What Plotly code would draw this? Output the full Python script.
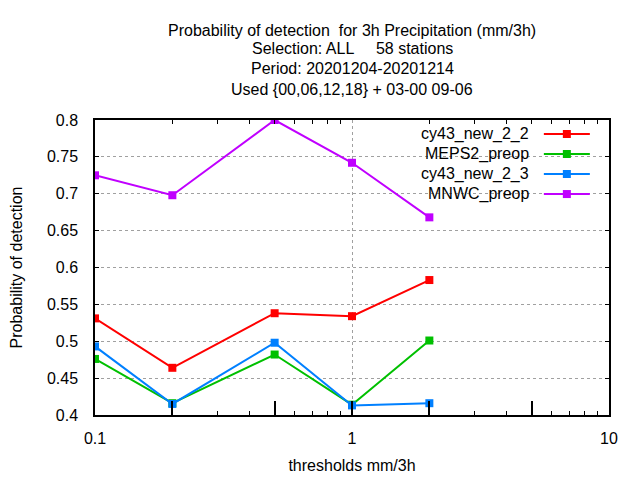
import plotly.graph_objects as go

thresholds = [0.1, 0.2, 0.5, 1, 2]
series_names = ["cy43_new_2_2", "MEPS2_preop", "cy43_new_2_3", "MNWC_preop"]
cy43_new_2_2 = [0.531, 0.464, 0.538, 0.534, 0.583]
meps2_preop = [0.476, 0.416, 0.482, 0.414, 0.501]
cy43_new_2_3 = [0.493, 0.415, 0.498, 0.413, 0.416]
mnwc_preop = [0.725, 0.698, 0.800, 0.742, 0.668]
colors = ["#ff0000", "#00c000", "#0080ff", "#c000ff"]

title_lines = [
    "Probability of detection  for 3h Precipitation (mm/3h)",
    "Selection: ALL     58 stations",
    "Period: 20201204-20201214",
    "Used {00,06,12,18} + 03-00 09-06",
]
x_labelled = [0.1, 1, 10]
x_labelled_text = ["0.1", "1", "10"]
x_grid = [1]
x_threshold_ticks = [0.2, 0.5, 2, 5]
x_minor = [0.3, 0.4, 0.6, 0.7, 0.8, 0.9, 3, 4, 6, 7, 8, 9]
x_top = [0.2, 0.3, 0.4, 0.5, 0.6, 0.7, 0.8, 0.9, 2, 3, 4, 5, 6, 7, 8, 9]

FONT = "Liberation Sans"
FS = 16
GRID = "#a0a0a0"

fig = go.Figure()
all_series = [cy43_new_2_2, meps2_preop, cy43_new_2_3, mnwc_preop]
for name, vals, col in zip(series_names, all_series, colors):
    fig.add_trace(go.Scatter(
        x=thresholds, y=vals, name=name, mode="lines+markers",
        line=dict(color=col, width=2),
        marker=dict(symbol="square", size=8, color=col),
        showlegend=False,
    ))

# invisible traces to anchor the extra tick axes
for ax in ["x2", "x3", "x4"]:
    fig.add_trace(go.Scatter(x=thresholds, y=mnwc_preop, xaxis=ax, mode="lines",
                             line=dict(width=0), opacity=0, showlegend=False,
                             hoverinfo="skip"))

# custom legend (text right, sample on the right)
shapes = []
annotations = []
leg_text_x = 0.849
leg_line_x = 0.918
leg_rows = [0.9525, 0.8847, 0.8169, 0.749]
shapes.append(dict(type="rect", xref="paper", yref="paper", x0=0.62, x1=0.973,
                   y0=0.719, y1=0.985, fillcolor="white", line=dict(width=0),
                   layer="below"))
for name, col, yy in zip(series_names, colors, leg_rows):
    annotations.append(dict(text=name, xref="paper", yref="paper", x=leg_text_x,
                            y=yy, xanchor="right", yanchor="middle", showarrow=False,
                            font=dict(family=FONT, size=FS, color="black")))
    shapes.append(dict(type="line", xref="paper", yref="paper",
                       xsizemode="pixel", ysizemode="pixel",
                       xanchor=leg_line_x, yanchor=yy, x0=-23, x1=23, y0=0, y1=0,
                       line=dict(color=col, width=2)))
    shapes.append(dict(type="rect", xref="paper", yref="paper",
                       xsizemode="pixel", ysizemode="pixel",
                       xanchor=leg_line_x, yanchor=yy, x0=-4, x1=4, y0=-4, y1=4,
                       fillcolor=col, line=dict(width=0)))

title_y = [1.305, 1.2407, 1.1729, 1.105]
for t, yy in zip(title_lines, title_y):
    annotations.append(dict(text=t, xref="paper", yref="paper", x=0.5, y=yy,
                            xanchor="center", yanchor="middle", showarrow=False,
                            font=dict(family=FONT, size=FS, color="black")))

tick_axis = dict(type="log", range=[-1, 1], overlaying="x", automargin=False,
                 tickcolor="black", ticks="inside", showticklabels=False,
                 showgrid=False, zeroline=False, showline=False)

# page body adds an 8px offset, so the figure is 632x472
fig.update_layout(
    width=632, height=472,
    margin=dict(l=87, r=31, t=112, b=65),
    paper_bgcolor="white", plot_bgcolor="white",
    font=dict(family=FONT, size=FS, color="black"),
    shapes=shapes, annotations=annotations,
    xaxis=dict(
        type="log", range=[-1, 1], automargin=False,
        tickvals=x_labelled, ticktext=x_labelled_text,
        ticks="inside", ticklen=14, tickwidth=2, tickcolor="black",
        showgrid=True, gridcolor=GRID, griddash="dot", gridwidth=1,
        minor=dict(tickvals=x_grid, ticks="", showgrid=True, gridcolor=GRID,
                   griddash="dot", gridwidth=1),
        zeroline=False,
        showline=True, linecolor="black", linewidth=1.5, mirror=True,
        ticklabelstandoff=8,
        title=dict(text="thresholds mm/3h", standoff=14,
                   font=dict(family=FONT, size=FS)),
    ),
    xaxis2=dict(tick_axis, side="top", tickvals=x_top, ticklen=4, tickwidth=1),
    xaxis3=dict(tick_axis, side="bottom", tickvals=x_threshold_ticks,
                ticklen=14, tickwidth=2),
    xaxis4=dict(tick_axis, side="bottom", tickvals=x_minor, ticklen=4, tickwidth=1),
    yaxis=dict(
        range=[0.4, 0.8], dtick=0.05, tick0=0.4, automargin=False,
        ticks="inside", ticklen=4, tickcolor="black", mirror="ticks",
        showline=True, linecolor="black", linewidth=1.5,
        showgrid=True, gridcolor=GRID, griddash="dot", gridwidth=1,
        zeroline=False,
        ticklabelstandoff=12,
        title=dict(text="Probability of detection", standoff=20,
                   font=dict(family=FONT, size=FS)),
    ),
)

fig.write_html("out.html")
